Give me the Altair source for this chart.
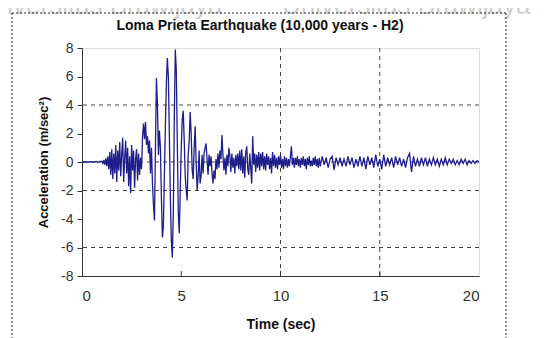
import altair as alt
import pandas as pd

# ---- data (acceleration in m/sec^2) ----
# each segment: start time (s), sampling step (s), values
seg_a_start, seg_a_step = 0.0, 0.1
seg_a = [0, 0, 0, 0, 0, 0.02, -0.02, 0.03, -0.03, 0.05]

seg_b_start, seg_b_step = 1.0, 0.05
seg_b = [0.05, -0.1, 0.15, -0.2, 0.25, -0.3, 0.4, -0.5, 0.7, -0.9,
         0.9, -1.2, 0.6, -0.8, 1.2, -1.4, 0.8, -0.6, 1.4, -1.0,
         0.5, 1.7, -1.4, 0.3, 1.5, -0.8, 1.0, -1.7, 0.4, -2.2,
         1.2, -0.6, 0.8, -1.8, 0.2, 0.9, -1.3, 0.6, -0.9, 0.3]

seg_c_start, seg_c_step = 3.0, 0.05
seg_c = [-0.5, 1.8, 2.7, 1.6, 2.8, 1.2, 1.8, 0.6, 1.5, -0.8,
         1.0, -1.5, -3.0, -4.1, 1.0, 5.9, 4.0, 0.5, 2.2, 1.0,
         -2.5, -5.3, -4.5, -1.0, 2.5, 5.5, 7.3, 6.0, 2.0, -2.5,
         -5.5, -6.7, -3.5, 3.0, 7.9, 6.5, 1.5, -3.5, -5.0, -2.0,
         1.0, 3.0, 3.6, 1.5, -1.0, -2.0, -2.7, 0.5, 1.5, 3.5,
         2.0, -0.5, -1.2, 1.0, 2.5, 0.0, -2.0, -1.0, 0.8, -1.5]

seg_d_start, seg_d_step = 6.0, 0.05
seg_d = [-1.0, 0.5, -0.8, 0.6, 1.0, 1.3, 0.2, -0.9, 0.5, -0.3,
         0.4, -0.8, -1.5, -0.6, -1.2, 0.2, -0.5, 0.6, -0.4, 0.8,
         0.2, 1.9, 0.5, -0.6, 0.3, -0.9, 0.5, -0.3, 1.0, 0.4,
         -0.7, 0.6, -0.4, 0.3, -0.8, 0.5, -0.3, 0.6, -0.5, 0.8]

seg_e_start, seg_e_step = 8.0, 0.05
seg_e = [-0.6, 0.9, -0.8, 0.4, -1.1, 0.7, 1.1, -0.5, -0.9, 0.6,
         -0.4, -1.5, 1.8, -0.2, 0.6, -0.7, 0.5, -0.4, 0.7, -0.6,
         0.6, -0.3, 0.7, -0.5, 0.4, -0.6, 0.6, -0.2, 0.4, -0.5,
         0.3, -0.8, 0.7, -0.3, 0.5, -0.4, 0.3, -0.5, 0.4, -0.2,
         0.5, -0.4, 0.2, -0.5, 0.4, -0.3, 0.3, -0.4, 0.2, -0.3,
         0.4, 1.1, -0.2, 0.3, -0.4, 0.3, -0.2, 0.4, -0.3, 0.2,
         -0.4, 0.3, -0.2, 0.4, -0.3, 0.2, -0.5, 0.3, -0.2, 0.4,
         -0.3, 0.1, -0.3, 0.3, -0.2, 0.4, -0.3, 0.2, -0.4, 0.3]

seg_f_start, seg_f_step = 12.0, 0.1
seg_f = [-0.3, 0.4, -0.2, 0.3, -0.4, 0.2, 0.4, -0.55, 0.3, -0.2,
         0.3, -0.3, 0.2, -0.3, 0.4, -0.2, 0.3, -0.4, 0.2, -0.3,
         0.4, -0.3, 0.3, -0.5, 0.4, -0.2, 0.3, -0.4, 0.5, -0.3,
         0.2, -0.5, 0.5, -0.3, 0.3, -0.2, 0.3, -0.4, 0.4, -0.2,
         0.3, -0.3, 0.2, -0.4, 0.3, 0.6, -0.7, 0.4, -0.3, 0.2,
         -0.3, 0.3, -0.2, 0.3, -0.3, 0.2, -0.2, 0.3, -0.2, 0.2,
         -0.3, 0.2, -0.2, 0.3, -0.2, 0.2, -0.1, 0.2, -0.2, 0.1,
         -0.2, 0.2, -0.1, 0.2, -0.2, 0.1, -0.1, 0.1, -0.1, 0.1, 0.0]

x_ticks = [0, 5, 10, 15, 20]
y_ticks = [-8, -6, -4, -2, 0, 2, 4, 6, 8]
grid_x = [10, 15]
grid_y = [4, 0, -2, -6]

title_text = "Loma Prieta Earthquake (10,000 years - H2)"
x_title = "Time (sec)"
y_title = "Acceleration (m/sec²)"
watermark = "Universitas Brawijaya"

# ---- build table ----
rows = []
for start, step, vals in [(seg_a_start, seg_a_step, seg_a),
                          (seg_b_start, seg_b_step, seg_b),
                          (seg_c_start, seg_c_step, seg_c),
                          (seg_d_start, seg_d_step, seg_d),
                          (seg_e_start, seg_e_step, seg_e),
                          (seg_f_start, seg_f_step, seg_f)]:
    for i, v in enumerate(vals):
        rows.append({"t": round(start + i * step, 3), "a": v})
df = pd.DataFrame(rows)

FONT = "Liberation Sans"
xs = alt.Scale(domain=[0, 20], nice=False)
ys = alt.Scale(domain=[-8, 8], nice=False)

x_axis = alt.Axis(values=x_ticks, grid=False, tickSize=0, labelPadding=12,
                  labelFont=FONT, labelFontSize=15, labelColor="#333",
                  labelOverlap=False,
                  domainColor="#333", title=x_title, titleFont=FONT,
                  titleFontSize=14, titleFontWeight="bold", titleColor="#111",
                  titlePadding=14, labelExpr="'' + datum.value")
y_axis = alt.Axis(values=y_ticks, tickCount=9, grid=False, tickSize=5, tickColor="#333",
                  labelPadding=4, labelFont=FONT, labelFontSize=14,
                  labelOverlap=False,
                  labelColor="#333", domainColor="#333", title=y_title,
                  titleFont=FONT, titleFontSize=13, titleFontWeight="bold",
                  titleColor="#111", titlePadding=10,
                  labelExpr="'' + datum.value")

line = alt.Chart(df).mark_line(color="#1e1e8c", strokeWidth=1.3, clip=True).encode(
    x=alt.X("t:Q", scale=xs, axis=x_axis),
    y=alt.Y("a:Q", scale=ys, axis=y_axis),
)

gx = alt.Chart(pd.DataFrame({"gx": grid_x})).mark_rule(
    color="#444", strokeWidth=1, strokeDash=[4, 4]).encode(
    x=alt.X("gx:Q", scale=xs, axis=x_axis))
gy = alt.Chart(pd.DataFrame({"gy": grid_y})).mark_rule(
    color="#444", strokeWidth=1, strokeDash=[4, 4]).encode(
    y=alt.Y("gy:Q", scale=ys, axis=y_axis))

# inward x ticks
xt = alt.Chart(pd.DataFrame({"xt": x_ticks[1:-1], "y0": [-8] * 3, "y1": [-7.65] * 3})).mark_rule(
    color="#333", strokeWidth=1).encode(
    x=alt.X("xt:Q", scale=xs, axis=x_axis), y=alt.Y("y0:Q", scale=ys, axis=y_axis), y2="y1:Q")

# outer dotted frame
frame_style = dict(color="#222", strokeWidth=1, strokeDash=[2, 2])
f_top = alt.Chart(df.head(1)).mark_rule(**frame_style).encode(
    x=alt.value(-70), x2=alt.value(424), y=alt.value(-35))
f_left = alt.Chart(df.head(1)).mark_rule(**frame_style).encode(
    x=alt.value(-70), y=alt.value(-35), y2=alt.value(290))
f_right = alt.Chart(df.head(1)).mark_rule(**frame_style).encode(
    x=alt.value(424), y=alt.value(-35), y2=alt.value(290))

wm = alt.Chart(pd.DataFrame({"w": [watermark, watermark], "px": [-108, 200]})).mark_text(
    font=FONT, fontSize=26, color="#cfcfcf", align="left", baseline="alphabetic").encode(
    text="w:N", x=alt.X("px:Q", scale=None), y=alt.value(-34))

title = alt.Chart(pd.DataFrame({"s": [title_text]})).mark_text(
    font=FONT, fontSize=14, fontWeight="bold", color="#111", align="center",
    baseline="alphabetic").encode(text="s:N", x=alt.value(178), y=alt.value(-18))

chart = alt.layer(wm, gy, gx, line, xt, f_top, f_left, f_right, title).properties(
    width=397, height=228,
    padding={"left": 74, "top": 40, "right": 59, "bottom": 62},
    autosize=alt.AutoSizeParams(type="none"),
).configure_view(stroke="#999", strokeWidth=1).configure(background="white")

chart.save("out.html", embed_options={"renderer": "svg", "actions": False})
